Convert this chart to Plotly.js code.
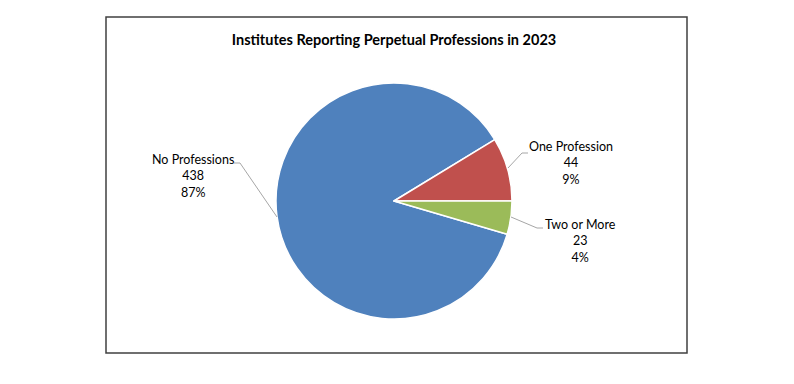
<!DOCTYPE html>
<html>
<head>
<meta charset="utf-8">
<script src="https://cdn.plot.ly/plotly-3.0.1.min.js"></script>
<style>html,body{margin:0;padding:0;background:#fff;}#chart{width:794px;height:384px;}</style>
</head>
<body>
<div id="chart"></div>
<script>
const categories = ["No Professions", "One Profession", "Two or More"];
const counts = [438, 44, 23];
const percentLabels = ["87%", "9%", "4%"];
const colors = ["#4F81BD", "#C0504D", "#9BBB59"];

const W = 794, H = 384;
const px = x => x / W;
const py = y => 1 - y / H;

const total = counts.reduce((a, b) => a + b, 0);
const rotation = 90 + counts[2] / total * 360;

const cx = 394, cy = 201, r = 118;
const FONT = "Lato, 'Open Sans', sans-serif";

const trace = {
  type: "pie",
  labels: categories,
  values: counts,
  sort: false,
  direction: "clockwise",
  rotation: rotation,
  textinfo: "none",
  hoverinfo: "label+value+percent",
  marker: {colors: colors, line: {color: "#ffffff", width: 1.5}},
  domain: {x: [px(cx - r), px(cx + r)], y: [py(cy + r), py(cy - r)]},
  showlegend: false
};

const labelPos = [[193, 176], [571, 163], [580, 241]];
const annotations = categories.map((c, i) => ({
  xref: "paper", yref: "paper",
  x: px(labelPos[i][0]), y: py(labelPos[i][1]),
  xanchor: "center", yanchor: "middle",
  text: c + "<br>" + counts[i] + "<br>" + percentLabels[i],
  showarrow: false,
  font: {family: FONT, size: 12.5, color: "#000"},
  align: "center"
}));

const leaders = [
  [[234, 163], [240, 163], [277, 217]],
  [[508, 168], [522, 153], [528, 153]],
  [[511, 217], [537, 228], [543, 228]]
];
const shapes = leaders.map(pts => ({
  type: "path", xref: "paper", yref: "paper",
  path: pts.map((p, j) => (j ? "L" : "M") + px(p[0]) + "," + py(p[1])).join(" "),
  line: {color: "#A6A6A6", width: 1}
}));
shapes.push({
  type: "rect", xref: "paper", yref: "paper",
  x0: px(106), x1: px(687), y0: py(353), y1: py(17),
  line: {color: "#404040", width: 1.5}
});

const layout = {
  width: W, height: H,
  margin: {l: 0, r: 0, t: 0, b: 0},
  paper_bgcolor: "#ffffff",
  title: {
    text: "Institutes Reporting Perpetual Professions in 2023",
    x: px(394), xanchor: "center",
    y: py(40), yanchor: "middle",
    font: {family: FONT, size: 14.5, color: "#000", weight: "bold"}
  },
  annotations: annotations,
  shapes: shapes
};

Plotly.newPlot("chart", [trace], layout, {displayModeBar: false, staticPlot: true});
</script>
</body>
</html>
